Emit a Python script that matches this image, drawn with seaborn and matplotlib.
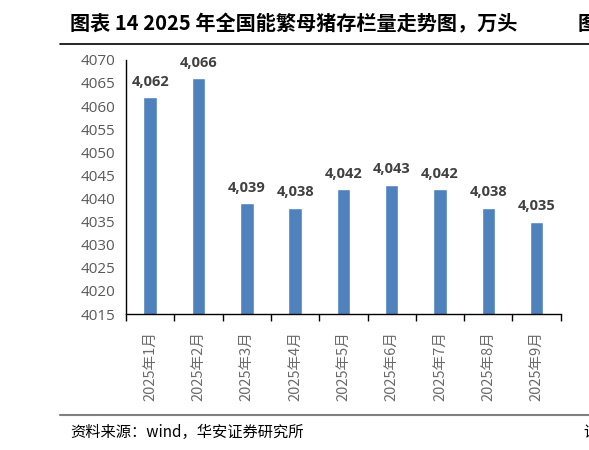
import seaborn as sns
import matplotlib.pyplot as plt
import pandas as pd
import numpy as np

# data
months = ["2025年1月", "2025年2月", "2025年3月", "2025年4月", "2025年5月",
          "2025年6月", "2025年7月", "2025年8月", "2025年9月"]
sows = [4062, 4066, 4039, 4038, 4042, 4043, 4042, 4038, 4035]
yticks = list(range(4015, 4071, 5))

df = pd.DataFrame({"month": months, "sows": sows})

sns.set_style("white")
plt.rcParams["font.family"] = ["Noto Sans CJK SC", "DejaVu Sans"]

fig = plt.figure(figsize=(5.89, 4.5), dpi=100)
ax = fig.add_axes([0.214, 0.302, 0.738, 0.565])

sns.barplot(data=df, x="month", y="sows", color="#4F81BD", width=0.28,
            saturation=1, ax=ax)
ax.set_ylim(4015, 4070)
ax.set_yticks(yticks)
ax.set_yticklabels([str(v) for v in yticks], fontsize=11, color="#595959",
                   family=["Open Sans", "DejaVu Sans"])
ax.set_xlim(-0.5, len(months) - 0.5)
ax.set_xlabel("")
ax.set_ylabel("")

# bar value labels
for i, v in enumerate(sows):
    ax.text(i, v + 1.8, f"{v:,}", ha="center", va="bottom", fontsize=10.5,
            fontweight="bold", color="#404040", family=["Open Sans", "DejaVu Sans"])

# spines and ticks
for s in ["top", "right"]:
    ax.spines[s].set_visible(False)
ax.spines["left"].set_color("black")
ax.spines["bottom"].set_color("black")
ax.spines["left"].set_linewidth(1)
ax.spines["bottom"].set_linewidth(1)
ax.tick_params(axis="y", length=0, pad=8)
ax.tick_params(axis="x", which="major", length=0, pad=12)
ax.set_xticks(np.arange(-0.5, len(months)), minor=True)
ax.tick_params(axis="x", which="minor", length=5, width=1, color="black",
               direction="out", bottom=True)
ax.set_xticks(range(len(months)))
ax.set_xticklabels(months, rotation=90, fontsize=10.5, color="#6b6b6b")

# title, rules and source
fig.text(70 / 589, 1 - 24 / 450, "图表 14 2025 年全国能繁母猪存栏量走势图，万头",
         fontsize=14.5, fontweight="bold", color="black", va="center", ha="left")
fig.text(578 / 589, 1 - 24 / 450, "图", fontsize=14.5, fontweight="bold",
         color="black", va="center", ha="left")
fig.add_artist(plt.Line2D([60 / 589, 1], [1 - 44 / 450] * 2, color="black", lw=1.2))
fig.add_artist(plt.Line2D([60 / 589, 1], [1 - 415 / 450] * 2, color="#7f7f7f", lw=1.5))
fig.text(70 / 589, 1 - 432 / 450, "资料来源：wind，华安证券研究所", fontsize=11,
         color="black", va="center", ha="left")
fig.text(583 / 589, 1 - 432 / 450, "请", fontsize=11, color="black",
         va="center", ha="left")

fig.savefig("out.png", dpi=100)
